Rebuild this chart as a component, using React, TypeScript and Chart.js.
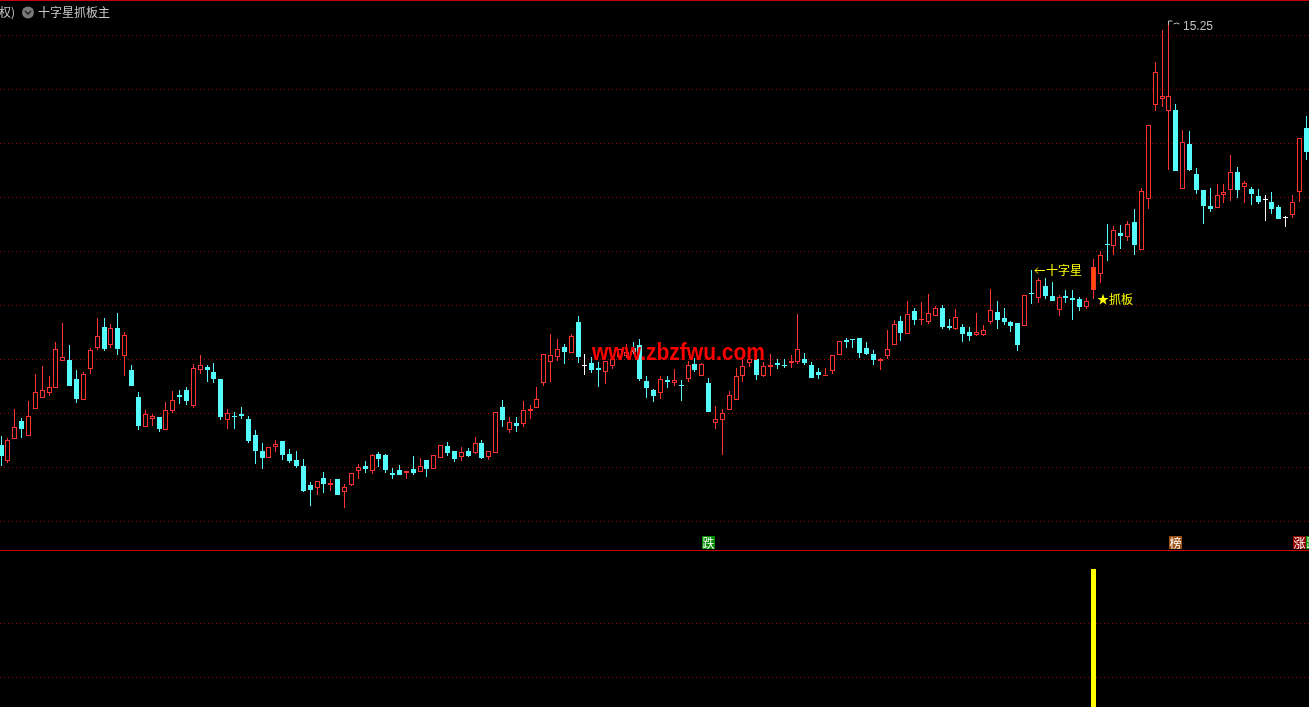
import React, { useEffect, useRef } from 'react';
import { Chart, registerables } from 'chart.js';

Chart.register(...registerables);

const W = 1309;
const H = 707;

// Daily candles (open / high / low / close), oldest first
const opens = [
  6.81, 6.50, 6.94, 7.29, 6.98, 7.54, 7.76, 7.86, 7.96, 8.50,
  8.51, 8.13, 7.72, 8.34, 8.76, 9.17, 8.82, 9.15, 8.60, 8.31,
  7.77, 7.18, 7.34, 7.37, 7.12, 7.49, 7.81, 7.91, 7.60, 8.32,
  8.37, 8.27, 8.13, 7.31, 7.39, 7.43, 7.33, 7.01, 6.69, 6.55,
  6.77, 6.89, 6.63, 6.51, 6.39, 6.01, 5.95, 6.15, 6.02, 6.13,
  5.87, 6.01, 6.29, 6.39, 6.30, 6.63, 6.61, 6.25, 6.31, 6.26,
  6.33, 6.28, 6.51, 6.34, 6.56, 6.79, 6.69, 6.57, 6.69, 6.65,
  6.85, 6.57, 6.66, 7.57, 7.11, 7.25, 7.23, 7.50, 7.55, 8.05,
  8.47, 8.57, 8.77, 8.65, 9.27, 8.39, 8.45, 8.35, 8.27, 8.39,
  8.57, 8.59, 8.75, 8.81, 8.09, 7.91, 7.85, 8.11, 8.05, 8.01,
  8.13, 8.43, 8.19, 8.05, 7.25, 7.31, 7.51, 7.72, 8.19, 8.45,
  8.53, 8.19, 8.38, 8.45, 8.41, 8.46, 8.47, 8.53, 8.41, 8.27,
  8.19, 8.29, 8.62, 8.91, 8.93, 8.95, 8.75, 8.63, 8.50, 8.59,
  8.81, 9.29, 9.03, 9.49, 9.30, 9.27, 9.39, 9.55, 9.19, 9.13,
  9.17, 9.07, 9.01, 9.01, 9.27, 9.47, 9.35, 9.27, 9.25, 9.19,
  9.86, 9.75, 9.99, 9.79, 9.51, 9.79, 9.75, 9.73, 9.57, 9.91,
  10.23, 10.83, 10.79, 11.05, 10.97, 11.27, 10.71, 11.73, 13.61, 13.73,
  13.50, 13.51, 11.93, 12.83, 12.23, 11.91, 11.59, 11.55, 11.81, 11.91,
  12.27, 11.97, 11.93, 11.79, 11.71, 11.67, 11.57, 11.35, 11.41, 11.87,
  13.15,
];
const highs = [
  6.99, 6.96, 7.53, 7.35, 7.69, 8.23, 8.39, 8.19, 8.87, 9.25,
  8.81, 8.31, 8.27, 8.75, 9.35, 9.35, 9.23, 9.45, 9.08, 8.41,
  7.87, 7.51, 7.44, 7.37, 7.67, 7.89, 7.91, 7.97, 8.43, 8.61,
  8.41, 8.45, 8.13, 7.53, 7.47, 7.57, 7.39, 7.11, 6.85, 6.77,
  6.91, 6.89, 6.73, 6.69, 6.53, 6.07, 6.09, 6.27, 6.13, 6.13,
  6.03, 6.25, 6.43, 6.49, 6.63, 6.67, 6.63, 6.35, 6.41, 6.29,
  6.59, 6.55, 6.51, 6.61, 6.81, 6.87, 6.69, 6.77, 6.75, 6.97,
  6.91, 6.69, 7.47, 7.71, 7.37, 7.37, 7.69, 7.61, 7.97, 8.63,
  9.03, 8.93, 8.83, 9.03, 9.39, 8.63, 8.57, 8.47, 8.49, 8.57,
  8.73, 8.83, 8.87, 8.93, 8.19, 7.93, 8.19, 8.19, 8.33, 8.11,
  8.49, 8.55, 8.45, 8.15, 7.59, 7.53, 7.89, 8.35, 8.53, 8.53,
  8.53, 8.47, 8.63, 8.53, 8.53, 8.61, 9.43, 8.65, 8.47, 8.35,
  8.35, 8.61, 8.89, 8.95, 8.93, 8.95, 8.87, 8.71, 8.55, 9.11,
  9.31, 9.39, 9.69, 9.55, 9.67, 9.83, 9.59, 9.61, 9.33, 9.53,
  9.23, 9.17, 9.45, 9.21, 9.93, 9.69, 9.55, 9.29, 9.25, 9.81,
  10.31, 10.15, 10.15, 10.07, 9.81, 9.91, 9.91, 9.77, 9.75, 10.53,
  10.69, 11.23, 11.19, 11.21, 11.29, 11.53, 11.95, 13.21, 14.47, 15.11,
  15.25, 13.63, 13.11, 13.09, 12.35, 11.91, 11.95, 12.03, 12.03, 12.61,
  12.37, 12.09, 11.97, 11.93, 11.81, 11.87, 11.61, 11.39, 11.81, 12.95,
  13.39,
];
const lows = [
  6.40, 6.46, 6.94, 6.96, 6.98, 7.54, 7.76, 7.80, 7.96, 8.50,
  8.00, 7.66, 7.72, 8.23, 8.72, 8.69, 8.76, 8.62, 8.19, 8.00,
  7.12, 7.18, 7.19, 7.08, 7.12, 7.45, 7.63, 7.61, 7.55, 8.23,
  8.07, 8.05, 7.31, 7.13, 7.13, 7.33, 6.85, 6.43, 6.33, 6.55,
  6.67, 6.51, 6.45, 6.35, 5.87, 5.59, 5.81, 5.85, 5.89, 5.81,
  5.55, 5.99, 6.13, 6.25, 6.23, 6.37, 6.25, 6.13, 6.21, 6.13,
  6.21, 6.28, 6.17, 6.34, 6.56, 6.59, 6.47, 6.49, 6.57, 6.63,
  6.53, 6.51, 6.66, 7.17, 7.05, 7.07, 7.17, 7.33, 7.55, 7.99,
  8.07, 8.49, 8.43, 8.65, 8.45, 8.21, 8.25, 7.97, 8.03, 8.33,
  8.51, 8.55, 8.63, 8.09, 7.75, 7.67, 7.73, 7.95, 7.99, 7.69,
  8.07, 8.27, 8.19, 7.47, 7.13, 6.61, 7.51, 7.72, 8.07, 8.37,
  8.11, 8.17, 8.19, 8.33, 8.35, 8.35, 8.43, 8.41, 8.15, 8.13,
  8.19, 8.23, 8.62, 8.75, 8.75, 8.55, 8.61, 8.41, 8.31, 8.53,
  8.81, 8.89, 9.03, 9.21, 9.21, 9.23, 9.39, 9.13, 9.11, 9.11,
  8.87, 8.89, 8.99, 8.99, 9.23, 9.13, 9.21, 9.07, 8.69, 9.19,
  9.63, 9.65, 9.73, 9.69, 9.39, 9.65, 9.31, 9.49, 9.53, 9.73,
  10.05, 10.49, 10.61, 10.73, 10.89, 10.61, 10.71, 11.53, 13.49, 13.57,
  12.31, 12.29, 11.93, 12.29, 11.83, 11.23, 11.47, 11.55, 11.65, 11.69,
  11.75, 11.65, 11.61, 11.63, 11.29, 11.43, 11.33, 11.17, 11.35, 11.67,
  12.51,
];
const closes = [
  6.60, 6.91, 7.17, 7.14, 7.39, 7.87, 7.91, 7.97, 8.73, 8.57,
  8.00, 7.74, 8.23, 8.71, 8.99, 8.73, 9.15, 8.73, 9.01, 8.00,
  7.20, 7.43, 7.39, 7.13, 7.51, 7.71, 7.78, 7.69, 8.35, 8.41,
  8.32, 8.13, 7.37, 7.45, 7.38, 7.39, 6.89, 6.69, 6.55, 6.77,
  6.83, 6.61, 6.49, 6.39, 5.89, 5.91, 6.09, 6.03, 6.05, 5.81,
  5.97, 6.25, 6.37, 6.33, 6.61, 6.53, 6.31, 6.22, 6.21, 6.29,
  6.25, 6.39, 6.33, 6.61, 6.81, 6.65, 6.53, 6.67, 6.59, 6.85,
  6.55, 6.69, 7.47, 7.31, 7.27, 7.19, 7.51, 7.53, 7.73, 8.63,
  8.61, 8.73, 8.67, 8.99, 8.57, 8.39, 8.31, 8.31, 8.49, 8.53,
  8.73, 8.67, 8.67, 8.13, 7.95, 7.79, 8.13, 8.07, 8.11, 7.99,
  8.41, 8.31, 8.43, 7.47, 7.33, 7.45, 7.81, 8.19, 8.39, 8.53,
  8.21, 8.39, 8.41, 8.41, 8.39, 8.49, 8.73, 8.45, 8.15, 8.21,
  8.21, 8.61, 8.89, 8.87, 8.91, 8.65, 8.63, 8.51, 8.53, 8.73,
  9.23, 9.05, 9.43, 9.31, 9.33, 9.45, 9.55, 9.17, 9.15, 9.37,
  9.03, 8.99, 9.07, 9.11, 9.51, 9.31, 9.27, 9.19, 8.81, 9.81,
  9.84, 10.11, 9.79, 9.69, 9.77, 9.76, 9.71, 9.57, 9.69, 10.37,
  10.61, 10.80, 11.11, 10.99, 11.23, 10.81, 11.89, 13.21, 14.27, 13.79,
  13.79, 12.29, 12.87, 12.31, 11.91, 11.59, 11.53, 11.81, 11.87, 12.27,
  11.91, 12.05, 11.83, 11.67, 11.71, 11.53, 11.33, 11.35, 11.67, 12.95,
  12.67,
];

// horizontal dotted grid levels of the price pane and of the indicator pane
const gridPrices = [15.0, 13.92, 12.84, 11.76, 10.68, 9.6, 8.52, 7.44, 6.36, 5.28];
const subGridValues = [0.3333333, 0.6666667];

// indicator pane: signal bars
const signalIndex = [159];
const signalValue = [1];

// annotations
const crossIndex = 150;
const boardIndex = 159;
const highIndex = 170;
const markIndex = [103, 171, 189, 189];
const markText = ['跌', '榜', '涨', '跌'];
const markColor = ['#008a00', '#9c4f12', '#8e0000', '#008a00'];

const RED = '#ff3232';
const CYAN = '#54fcfc';
const WHITE = '#ffffff';
const ORANGE = '#ff4c00';
const GRID = '#9b0000';
const CJK = '"Noto Sans CJK SC", "Noto Sans CJK JP", sans-serif';

const snapPlugin = {
  id: 'snapPixels',
  beforeDatasetsDraw(chart: any) {
    chart.data.datasets.forEach((_: any, di: number) => {
      const meta = chart.getDatasetMeta(di);
      meta.data.forEach((el: any) => {
        el.x = Math.floor(el.x) + 0.5;
        const y = Math.round(el.y);
        let b = Math.round(el.base);
        if (Math.abs(b - y) < 1) b = y + 1;
        el.y = y;
        el.base = b;
      });
    });
  },
};

const bgPlugin = {
  id: 'blackBg',
  beforeDraw(chart: any) {
    const ctx = chart.ctx;
    ctx.save();
    ctx.fillStyle = '#000000';
    ctx.fillRect(0, 0, chart.width, chart.height);
    ctx.restore();
  },
};

const overlayPlugin = {
  id: 'overlay',
  afterDraw(chart: any) {
    const ctx = chart.ctx;
    const xs = chart.scales.x;
    const ys = chart.scales.y;
    const px = (i: number) => Math.floor(xs.getPixelForValue(i)) + 0.5;
    const py = (v: number) => Math.round(ys.getPixelForValue(v));
    ctx.save();

    // pane borders
    ctx.fillStyle = '#c80000';
    ctx.fillRect(0, 0, W, 1);
    ctx.fillRect(0, 550, W, 1);

    // title
    ctx.textBaseline = 'middle';
    ctx.textAlign = 'left';
    ctx.font = '12px ' + CJK;
    ctx.fillStyle = '#c8c8c8';
    ctx.fillText('权)', -1, 12.5);
    ctx.beginPath();
    ctx.arc(28, 12.5, 6, 0, Math.PI * 2);
    ctx.fillStyle = '#7a7a7a';
    ctx.fill();
    ctx.beginPath();
    ctx.moveTo(25, 11);
    ctx.lineTo(28, 14);
    ctx.lineTo(31, 11);
    ctx.strokeStyle = '#262626';
    ctx.lineWidth = 1.6;
    ctx.stroke();
    ctx.fillStyle = '#c8c8c8';
    ctx.fillText('十字星抓板主', 38, 12.5);

    // watermark
    ctx.textBaseline = 'alphabetic';
    ctx.font = 'bold 23px "Liberation Sans", Arial, sans-serif';
    ctx.fillStyle = '#ff0000';
    ctx.fillText('www.zbzfwu.com', 592, 360, 173);

    // 十字星 annotation
    const cx = px(crossIndex) + 3.5;
    const cy = py(highs[crossIndex]) + 0.5;
    ctx.strokeStyle = '#ffff00';
    ctx.lineWidth = 1;
    ctx.beginPath();
    ctx.moveTo(cx, cy);
    ctx.lineTo(cx + 10, cy);
    ctx.moveTo(cx + 3, cy - 3);
    ctx.lineTo(cx, cy);
    ctx.lineTo(cx + 3, cy + 3);
    ctx.stroke();
    ctx.textBaseline = 'middle';
    ctx.font = '12px ' + CJK;
    ctx.fillStyle = '#ffff00';
    ctx.fillText('十字星', cx + 11, cy);

    // 抓板 annotation
    const bx = px(boardIndex) + 3.5;
    const by = py(lows[boardIndex]);
    ctx.fillText('★抓板', bx, by);

    // highest price label
    const hx = px(highIndex);
    const hy = py(highs[highIndex]);
    ctx.strokeStyle = '#c0c0c0';
    ctx.beginPath();
    ctx.moveTo(hx, hy + 2);
    ctx.lineTo(hx, hy - 2);
    ctx.lineTo(hx + 4, hy - 2);
    ctx.moveTo(hx + 5, hy + 1);
    ctx.lineTo(hx + 8, hy);
    ctx.lineTo(hx + 11, hy + 1);
    ctx.stroke();
    ctx.font = '12px "Liberation Sans", Arial, sans-serif';
    ctx.fillStyle = '#c0c0c0';
    ctx.fillText(highs[highIndex].toFixed(2), hx + 14.5, hy + 4);

    // bottom marks
    const used: Record<number, number> = {};
    ctx.font = '12px ' + CJK;
    ctx.textAlign = 'center';
    markIndex.forEach((mi, k) => {
      const n = used[mi] || 0;
      used[mi] = n + 1;
      const left = px(mi) - 6.5 + n * 13;
      ctx.fillStyle = markColor[k];
      ctx.fillRect(left, 536, 13, 13);
      ctx.fillStyle = '#ffffff';
      ctx.fillText(markText[k], left + 6.5, 543);
    });

    ctx.restore();
  },
};

export default function App() {
  const ref = useRef<HTMLCanvasElement | null>(null);

  useEffect(() => {
    document.body.style.margin = '0';
    document.body.style.background = '#000';
    const canvas = ref.current;
    if (!canvas) return;

    const idx = opens.map((_, i) => i);
    const kind = idx.map((i) =>
      signalIndex.includes(i) ? 'sig' : closes[i] > opens[i] ? 'up' : closes[i] < opens[i] ? 'down' : 'flat'
    );
    const lineColor = kind.map((k) => (k === 'down' ? CYAN : k === 'flat' ? WHITE : RED));
    const fillColor = kind.map((k) =>
      k === 'down' ? CYAN : k === 'flat' ? WHITE : k === 'sig' ? ORANGE : '#000000'
    );

    const gridScale = (values: number[], min: number, max: number) => ({
      type: 'linear',
      position: 'left',
      min,
      max,
      display: true,
      afterFit: (s: any) => {
        s.width = 0;
      },
      afterBuildTicks: (s: any) => {
        s.ticks = values.map((v) => ({ value: v }));
      },
      ticks: { display: false },
      grid: { color: GRID, lineWidth: 1, drawTicks: false, tickLength: 0 },
      border: { display: false, dash: [1, 3] },
    });

    const chart = new Chart(canvas, {
      type: 'bar',
      data: {
        datasets: [
          {
            label: 'wick',
            data: idx.map((i) => ({ x: i, y: [lows[i], highs[i]] })),
            backgroundColor: lineColor,
            borderWidth: 0,
            barThickness: 1,
            grouped: false,
            inflateAmount: 0,
            minBarLength: 1,
            order: 3,
            yAxisID: 'y',
          } as any,
          {
            label: 'body',
            data: idx.map((i) => ({ x: i, y: [opens[i], closes[i]] })),
            backgroundColor: fillColor,
            borderColor: lineColor,
            borderWidth: 1,
            borderSkipped: false,
            barThickness: 5,
            grouped: false,
            inflateAmount: 0,
            minBarLength: 1,
            order: 2,
            yAxisID: 'y',
          } as any,
          {
            label: 'signal',
            data: signalIndex.map((si, k) => ({ x: si, y: signalValue[k] })),
            backgroundColor: '#ffff00',
            borderWidth: 0,
            barThickness: 5,
            grouped: false,
            inflateAmount: 0,
            order: 1,
            yAxisID: 'y2',
          } as any,
        ],
      },
      options: {
        animation: false,
        responsive: false,
        devicePixelRatio: 1,
        events: [],
        layout: { padding: 0 },
        plugins: { legend: { display: false }, tooltip: { enabled: false }, title: { display: false } },
        scales: {
          x: { type: 'linear', min: -0.15, max: 190.39, display: false, offset: false },
          y: gridScale(gridPrices, 1.57, 15.71),
          y2: gridScale(subGridValues, 0.1512, 4.5154),
        } as any,
      },
      plugins: [bgPlugin, snapPlugin, overlayPlugin],
    } as any);

    return () => {
      chart.destroy();
    };
  }, []);

  return (
    <div style={{ width: W, height: H, overflow: 'hidden', background: '#000' }}>
      <canvas ref={ref} width={W} height={H} style={{ display: 'block', width: W, height: H }} />
    </div>
  );
}
